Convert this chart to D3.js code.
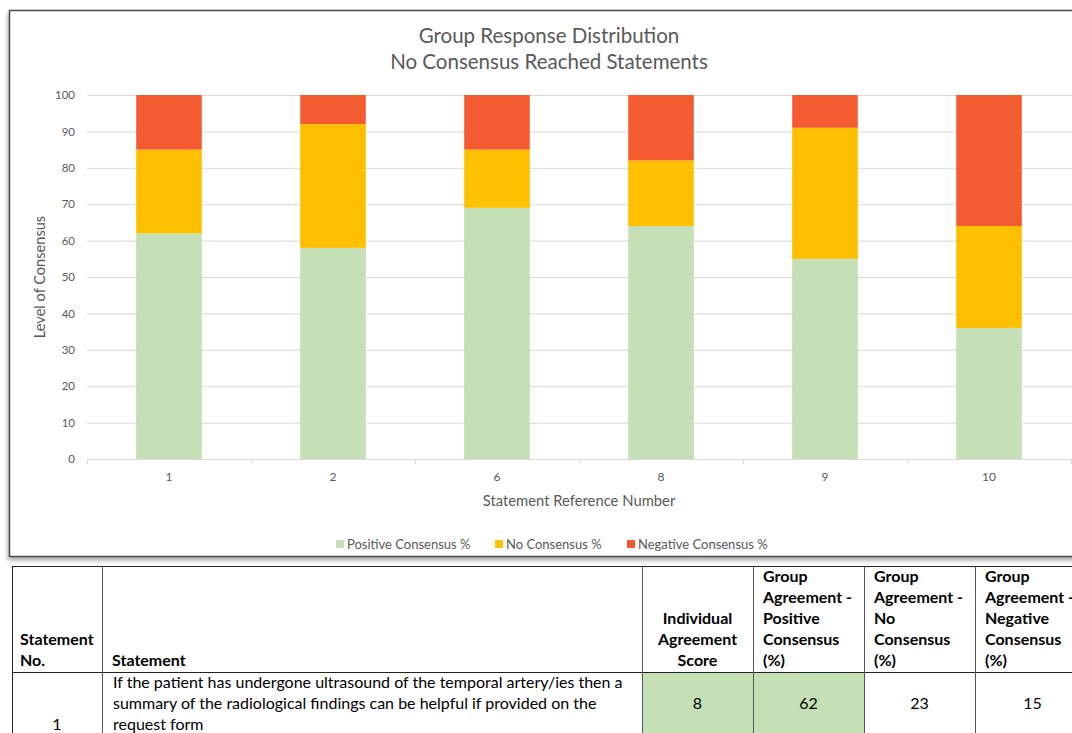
<!DOCTYPE html>
<html>
<head>
<meta charset="utf-8">
<script src="https://cdn.jsdelivr.net/npm/d3@7"></script>
<style>
	html, body { margin: 0; padding: 0; background: #fff; }
	svg { display: block; }
</style>
</head>
<body>
<div id="chart"></div>
<script>
// chart data
const categories = ['1', '2', '6', '8', '9', '10'];
const positive = [62, 58, 69, 64, 55, 36];
const noConsensus = [23, 34, 16, 18, 36, 28];
const negative = [15, 8, 15, 18, 9, 36];
const seriesNames = ['Positive Consensus %', 'No Consensus %', 'Negative Consensus %'];
const yTicks = [0, 10, 20, 30, 40, 50, 60, 70, 80, 90, 100];

// table data
const tableHeaders = [
	['Statement', 'No.'],
	['Statement'],
	['Individual', 'Agreement', 'Score'],
	['Group', 'Agreement -', 'Positive', 'Consensus', '(%)'],
	['Group', 'Agreement -', 'No', 'Consensus', '(%)'],
	['Group', 'Agreement -', 'Negative', 'Consensus', '(%)'],
];
const rowStatementNo = '1';
const rowStatement = [
	'If the patient has undergone ultrasound of the temporal artery/ies then a',
	'summary of the radiological findings can be helpful if provided on the',
	'request form',
];
const rowValues = ['8', '62', '23', '15'];

const width = 1072;
const height = 733;
const font = 'Lato, Carlito, Calibri, sans-serif';
const textColor = '#595959';
const colors = ['#c5e0b4', '#ffc000', '#f55b30'];

const svg = d3.select('#chart').append('svg')
	.attr('width', width)
	.attr('height', height)
	.style('font-family', font);

svg.append('rect').attr('width', width).attr('height', height).attr('fill', '#fff');

// shadow for the chart frame
const defs = svg.append('defs');
const shadow = defs.append('filter').attr('id', 'shadow')
	.attr('x', '-5%').attr('y', '-5%').attr('width', '110%').attr('height', '115%');
shadow.append('feDropShadow')
	.attr('dx', -1).attr('dy', 3)
	.attr('stdDeviation', 2)
	.attr('flood-color', '#000')
	.attr('flood-opacity', 0.35);

svg.append('rect')
	.attr('x', 9.5).attr('y', 10.5)
	.attr('width', 1100).attr('height', 546)
	.attr('fill', '#fff')
	.attr('stroke', '#4a4a4a')
	.attr('stroke-width', 1.5)
	.attr('filter', 'url(#shadow)');

// title
const title = svg.append('text')
	.attr('text-anchor', 'middle')
	.attr('fill', textColor)
	.style('font-size', '20.5px');
title.append('tspan').attr('x', 549).attr('y', 43).text('Group Response Distribution');
title.append('tspan').attr('x', 549).attr('y', 69).text('No Consensus Reached Statements');

// scales
const plot = { left: 87, right: 1071, top: 95, bottom: 459 };
const x = d3.scaleBand()
	.domain(categories)
	.range([plot.left, plot.right])
	.paddingInner(0.6)
	.paddingOuter(0.3);
const y = d3.scaleLinear()
	.domain([0, 100])
	.range([plot.bottom, plot.top]);

// gridlines
svg.append('g')
	.selectAll('line')
	.data(yTicks.slice(1))
	.enter()
	.append('line')
	.attr('x1', plot.left)
	.attr('x2', width)
	.attr('y1', d => y(d) + 0.5)
	.attr('y2', d => y(d) + 0.5)
	.attr('stroke', '#d9d9d9')
	.attr('stroke-width', 1);

// y axis labels
const yAxis = svg.append('g')
	.attr('transform', `translate(${plot.left}, 0)`)
	.call(d3.axisLeft(y).tickValues(yTicks).tickSize(0).tickPadding(12));
yAxis.select('.domain').remove();
yAxis.selectAll('text')
	.attr('fill', textColor)
	.style('font-family', font)
	.style('font-size', '11.5px');

// stacked bars
const rows = categories.map((c, i) => ({
	cat: c,
	pos: positive[i],
	no: noConsensus[i],
	neg: negative[i],
}));
const stack = d3.stack().keys(['pos', 'no', 'neg']);
const layers = stack(rows);

svg.append('g')
	.selectAll('g')
	.data(layers)
	.enter()
	.append('g')
	.attr('fill', (d, i) => colors[i])
	.selectAll('rect')
	.data(d => d)
	.enter()
	.append('rect')
	.attr('x', d => x(d.data.cat))
	.attr('width', x.bandwidth())
	.attr('y', d => y(d[1]))
	.attr('height', d => y(d[0]) - y(d[1]));

// x axis
const xAxis = svg.append('g');
xAxis.append('line')
	.attr('x1', plot.left).attr('x2', width)
	.attr('y1', plot.bottom + 0.5).attr('y2', plot.bottom + 0.5)
	.attr('stroke', '#d9d9d9');
const step = x.step();
xAxis.selectAll('.tick-mark')
	.data(d3.range(categories.length + 1))
	.enter()
	.append('line')
	.attr('class', 'tick-mark')
	.attr('x1', i => plot.left + i * step + 0.5)
	.attr('x2', i => plot.left + i * step + 0.5)
	.attr('y1', plot.bottom)
	.attr('y2', plot.bottom + 5)
	.attr('stroke', '#d9d9d9');
xAxis.selectAll('.x-label')
	.data(categories)
	.enter()
	.append('text')
	.attr('class', 'x-label')
	.attr('x', d => x(d) + x.bandwidth() / 2)
	.attr('y', 481)
	.attr('text-anchor', 'middle')
	.attr('fill', textColor)
	.style('font-size', '12px')
	.text(d => d);

// axis titles
svg.append('text')
	.attr('x', (plot.left + plot.right) / 2)
	.attr('y', 506)
	.attr('text-anchor', 'middle')
	.attr('fill', textColor)
	.style('font-size', '14.8px')
	.text('Statement Reference Number');
svg.append('text')
	.attr('transform', `translate(45, ${(plot.top + plot.bottom) / 2}) rotate(-90)`)
	.attr('text-anchor', 'middle')
	.attr('fill', textColor)
	.style('font-size', '14.6px')
	.text('Level of Consensus');

// legend
const legendX = [336, 495, 627];
const legend = svg.append('g')
	.selectAll('g')
	.data(seriesNames)
	.enter()
	.append('g')
	.attr('transform', (d, i) => `translate(${legendX[i]}, 540)`);
legend.append('rect')
	.attr('width', 8).attr('height', 8)
	.attr('fill', (d, i) => colors[i]);
legend.append('text')
	.attr('x', 11)
	.attr('y', 8.5)
	.attr('fill', textColor)
	.style('font-size', '13px')
	.text(d => d);

// table below the chart
const colX = [12, 102, 642, 753, 864, 975, 1090];
const tTop = 566;
const tHead = 672;
const tBottom = 760;
const lineH = 21;
const tfs = '16px';
const table = svg.append('g').style('font-family', font);

table.append('rect')
	.attr('x', colX[2]).attr('y', tHead)
	.attr('width', colX[4] - colX[2]).attr('height', tBottom - tHead)
	.attr('fill', '#c5e0b4');

table.append('line')
	.attr('x1', colX[0]).attr('x2', width)
	.attr('y1', tTop + 0.5).attr('y2', tTop + 0.5)
	.attr('stroke', '#222');
table.append('line')
	.attr('x1', colX[0]).attr('x2', width)
	.attr('y1', tHead + 0.5).attr('y2', tHead + 0.5)
	.attr('stroke', '#222');
table.selectAll('.col-line')
	.data(colX.slice(0, 6))
	.enter()
	.append('line')
	.attr('class', 'col-line')
	.attr('x1', d => d + 0.5).attr('x2', d => d + 0.5)
	.attr('y1', tTop).attr('y2', tBottom)
	.attr('stroke', (d, i) => (i === 0 ? '#222' : '#555'));

// header text, bottom aligned
tableHeaders.forEach((lines, ci) => {
	const centered = ci === 2;
	const tx = centered ? (colX[ci] + colX[ci + 1]) / 2 : colX[ci] + (ci === 0 ? 8 : 10);
	lines.forEach((ln, li) => {
		table.append('text')
			.attr('x', tx)
			.attr('y', 666 - (lines.length - 1 - li) * lineH)
			.attr('text-anchor', centered ? 'middle' : 'start')
			.attr('fill', '#000')
			.style('font-size', tfs)
			.style('font-weight', 'bold')
			.text(ln);
	});
});

// first row
table.append('text')
	.attr('x', (colX[0] + colX[1]) / 2)
	.attr('y', 730)
	.attr('text-anchor', 'middle')
	.style('font-size', tfs)
	.text(rowStatementNo);
rowStatement.forEach((ln, li) => {
	table.append('text')
		.attr('x', colX[1] + 11)
		.attr('y', 688 + li * lineH)
		.style('font-size', tfs)
		.text(ln);
});
rowValues.forEach((v, i) => {
	table.append('text')
		.attr('x', (colX[i + 2] + colX[i + 3]) / 2)
		.attr('y', 709)
		.attr('text-anchor', 'middle')
		.style('font-size', tfs)
		.text(v);
});
</script>
</body>
</html>
